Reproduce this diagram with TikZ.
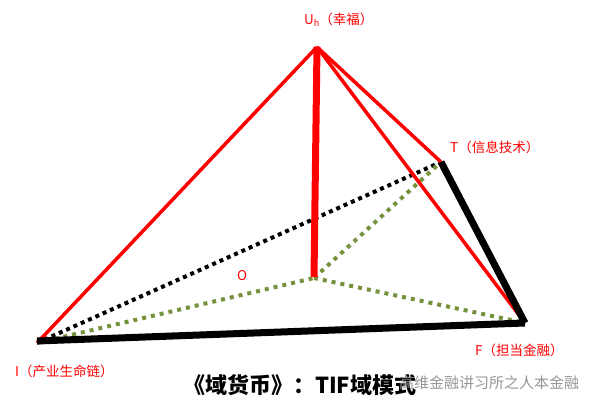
\documentclass[tikz,border=0pt]{standalone}
\usepackage{fontspec}
\newfontfamily\cjk{Noto Sans CJK SC}
\definecolor{olivedot}{RGB}{118,146,60}
\definecolor{lblred}{RGB}{255,0,0}
\definecolor{wmgray}{RGB}{150,150,150}
\begin{document}
\begin{tikzpicture}[x=1pt,y=-1pt,
  redline/.style={draw=red,line width=3.5pt},
  redthick/.style={draw=red,line width=7pt},
  blackthick/.style={draw=black,line width=7pt},
  blackdots/.style={draw=black,line width=4pt,dash pattern=on 4pt off 4pt},
  olivedots/.style={draw=olivedot,line width=4pt,dash pattern=on 4pt off 5pt},
  lbl/.style={text=lblred,font=\cjk\fontsize{13.5}{15}\selectfont,inner sep=0pt,anchor=west}]
\useasboundingbox (0,0) rectangle (600,411);
\coordinate (U) at (317,47);
\coordinate (T) at (441,162);
\coordinate (F) at (525,323);
\coordinate (I) at (37,343);
\coordinate (O) at (314,277);
% dotted lines
\draw[blackdots] (I) -- (T);
\draw[olivedots] (I) -- ([yshift=-1pt]O);
\draw[olivedots] ([yshift=-1pt]O) -- (F);
\draw[olivedots] ([yshift=-1pt]O) -- (T);
% solid
\draw[redline] (U) -- (I);
\draw[redline] (U) -- (T);
\draw[redline] (U) -- (F);
\draw[blackthick] (T) -- (F);
\draw[blackthick] ([yshift=2pt]I) -- (F);
\draw[redthick] (U) -- (O);
% labels
\node[lbl] (lu) at (304,20) {U\raisebox{-0.3ex}{\fontsize{9}{10}\selectfont h}（幸福）};
\node[lbl] (lt) at (450,147) {T（信息技术）};
\node[lbl] (lf) at (475,350) {F（担当金融）};
\node[lbl] (li) at (15,371) {I（产业生命链）};
\node[lbl] (lo) at (237,276) {O};
\node[anchor=west,inner sep=0pt,font=\cjk\bfseries\fontsize{22}{24}\selectfont] (title) at (183,385) {《域货币》：TIF域模式};
\node[anchor=west,inner sep=0pt,text=wmgray,font=\cjk\fontsize{15}{17}\selectfont] (wm) at (399,383) {高维金融讲习所之人本金融};
\end{tikzpicture}
\end{document}
